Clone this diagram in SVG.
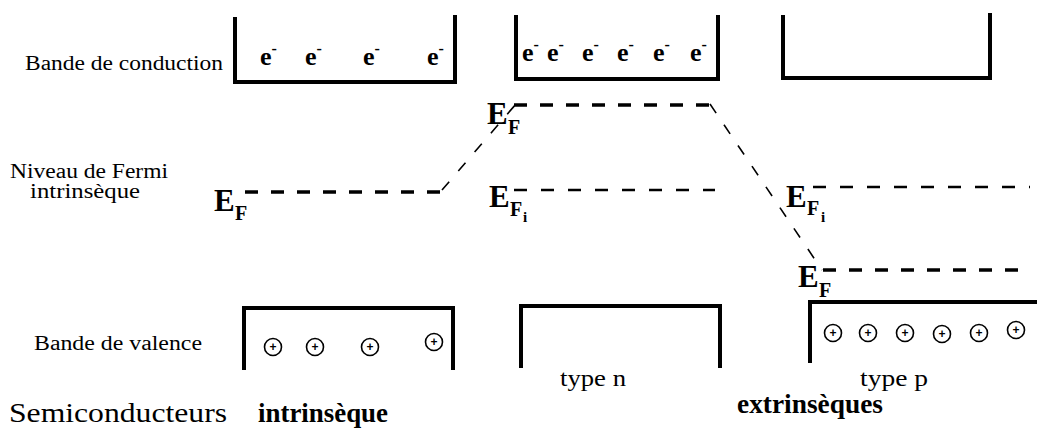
<svg xmlns="http://www.w3.org/2000/svg" width="1037" height="434" viewBox="0 0 1037 434">
<style>
.lbl{font-family:"Liberation Serif","Times New Roman",serif;font-size:20px;fill:#000}
.typ{font-family:"Liberation Serif","Times New Roman",serif;font-size:24px;fill:#000}
.big{font-family:"Liberation Serif","Times New Roman",serif;font-size:28px;fill:#000}
.bold{font-family:"Liberation Serif","Times New Roman",serif;font-weight:bold;fill:#000}
.band{fill:none;stroke:#000;stroke-width:4;stroke-linejoin:miter}
.lev{fill:none;stroke:#000;stroke-width:3.5;stroke-dasharray:13 13}
.levt{fill:none;stroke:#000;stroke-width:2.5;stroke-dasharray:13 14}
.slant{fill:none;stroke:#000;stroke-width:1.6;stroke-dasharray:11 14}
.ele{font-family:"Liberation Serif","Times New Roman",serif;font-weight:bold;font-size:26px}
.hole circle{fill:none;stroke:#000;stroke-width:1.6}
.hole text{font-family:"Liberation Sans",Arial,sans-serif;font-weight:bold;font-size:12px;text-anchor:middle}
.E{font-size:31px}
.sub{font-size:20px}
</style>

<g id="labels">
<text class="lbl" x="25" y="70" textLength="198" lengthAdjust="spacingAndGlyphs">Bande de conduction</text>
<text class="lbl" x="10" y="178" textLength="158" lengthAdjust="spacingAndGlyphs">Niveau de Fermi</text>
<text class="lbl" x="30" y="198" textLength="110" lengthAdjust="spacingAndGlyphs">intrinsèque</text>
<text class="lbl" x="34" y="350" textLength="168" lengthAdjust="spacingAndGlyphs">Bande de valence</text>
<text class="big" x="9" y="422" textLength="218" lengthAdjust="spacingAndGlyphs">Semiconducteurs</text>
<text class="bold" x="258" y="422" font-size="27" textLength="130" lengthAdjust="spacingAndGlyphs">intrinsèque</text>
<text class="bold" x="737" y="413" font-size="27" textLength="146" lengthAdjust="spacingAndGlyphs">extrinsèques</text>
<text class="typ" x="560" y="386" textLength="66" lengthAdjust="spacingAndGlyphs">type n</text>
<text class="typ" x="860" y="386" textLength="68" lengthAdjust="spacingAndGlyphs">type p</text>
</g>

<g id="intrinsic">
<path class="band" d="M235,17 V82 H455 V15"/>
<text class="ele" x="260" y="65">e<tspan dy="-11" font-size="16">-</tspan></text>
<text class="ele" x="305" y="65">e<tspan dy="-11" font-size="16">-</tspan></text>
<text class="ele" x="363" y="65">e<tspan dy="-11" font-size="16">-</tspan></text>
<text class="ele" x="427" y="65">e<tspan dy="-11" font-size="16">-</tspan></text>
<path class="band" d="M244,370 V308 H453 V370"/>
<g class="hole">
<circle cx="273" cy="347" r="8.5"/><text x="273" y="351">+</text>
<circle cx="315" cy="347" r="8.5"/><text x="315" y="351">+</text>
<circle cx="370" cy="347" r="8.5"/><text x="370" y="351">+</text>
<circle cx="434" cy="342" r="8.5"/><text x="434" y="346">+</text>
</g>
<text class="bold E" x="214" y="211">E</text>
<text class="bold sub" x="235" y="220">F</text>
</g>

<g id="ntype">
<path class="band" d="M516,15 V79 H718 V15"/>
<text class="ele" x="522" y="61">e<tspan dy="-11" font-size="16">-</tspan></text>
<text class="ele" x="547" y="61">e<tspan dy="-11" font-size="16">-</tspan></text>
<text class="ele" x="582" y="61">e<tspan dy="-11" font-size="16">-</tspan></text>
<text class="ele" x="617" y="61">e<tspan dy="-11" font-size="16">-</tspan></text>
<text class="ele" x="653" y="61">e<tspan dy="-11" font-size="16">-</tspan></text>
<text class="ele" x="690" y="61">e<tspan dy="-11" font-size="16">-</tspan></text>
<path class="band" d="M521,368 V306 H720 V368"/>
<text class="bold E" x="487" y="124">E</text>
<text class="bold sub" x="508" y="134">F</text>
<text class="bold E" x="489" y="207">E</text>
<text class="bold sub" x="510" y="216">F</text>
<text class="bold" font-size="15" x="523" y="222">i</text>
</g>

<g id="ptype">
<path class="band" d="M783,15 V78 H990 V13"/>
<path class="band" d="M810,363 V302 H1037"/>
<g class="hole">
<circle cx="833" cy="333" r="8.5"/><text x="833" y="337">+</text>
<circle cx="868" cy="333" r="8.5"/><text x="868" y="337">+</text>
<circle cx="905" cy="333" r="8.5"/><text x="905" y="337">+</text>
<circle cx="942" cy="334" r="8.5"/><text x="942" y="338">+</text>
<circle cx="979" cy="333" r="8.5"/><text x="979" y="337">+</text>
<circle cx="1016" cy="330" r="8.5"/><text x="1016" y="334">+</text>
</g>
<text class="bold E" x="786" y="207">E</text>
<text class="bold sub" x="807" y="215">F</text>
<text class="bold" font-size="15" x="821" y="222">i</text>
<text class="bold E" x="798" y="287">E</text>
<text class="bold sub" x="819" y="297">F</text>
</g>

<g id="connectors">
<path class="lev" d="M245,192 H442"/>
<path class="slant" d="M442,190 L516,104"/>
<path class="lev" stroke-width="3" d="M514,105 H710"/>
<path class="slant" d="M710,104 L822,270"/>
<path class="levt" d="M514,190 H715"/>
<path class="levt" d="M813,187 H1030"/>
<path class="lev" d="M823,270 H1030"/>
</g>
</svg>
